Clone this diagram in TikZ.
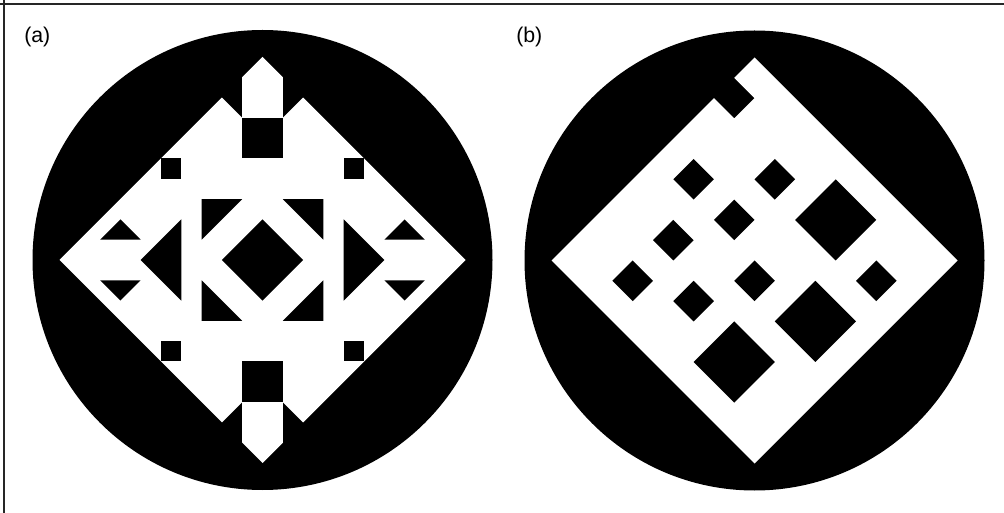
\documentclass[tikz,border=0pt]{standalone}
\usepackage{fontspec}
\setmainfont{Liberation Sans}
\begin{document}
\begin{tikzpicture}[x=0.75pt,y=-0.75pt,
  blk/.style={fill=black,draw=none},
  wht/.style={fill=white,draw=none},
  lbl/.style={anchor=base west,inner sep=0pt,font=\fontsize{16pt}{18pt}\selectfont},
  frameline/.style={draw=black!85,line width=1.5pt}]
\useasboundingbox (0,0) rectangle (1004,513);
\fill[white] (0,0) rectangle (1004,513);
\draw[frameline] (0,3.7) -- (1004,3.7);
\draw[frameline] (3.7,0) -- (3.7,513);
\node[lbl] (la) at (24,43) {(a)};
\node[lbl] (lb) at (516,43) {(b)};
% ---------- (a) ----------
\fill[blk] (262.5,260) circle (230);
\begin{scope}[shift={(262.5,260)},x=15.225pt,y=-15.225pt]
  \fill[wht] (-10,0) -- (-2,-8) -- (-1,-7) -- (1,-7) -- (2,-8) -- (10,0)
     -- (2,8) -- (1,7) -- (-1,7) -- (-2,8) -- cycle;
  \fill[wht] (-1,-7) -- (-1,-9) -- (0,-10) -- (1,-9) -- (1,-7) -- cycle;
  \fill[wht] (-1,7) -- (-1,9) -- (0,10) -- (1,9) -- (1,7) -- cycle;
  \fill[blk] (-1,-7) rectangle (1,-5);
  \fill[blk] (-1,5) rectangle (1,7);
  \fill[blk] (-5,-5) rectangle (-4,-4);
  \fill[blk] (4,-5) rectangle (5,-4);
  \fill[blk] (-5,4) rectangle (-4,5);
  \fill[blk] (4,4) rectangle (5,5);
  \fill[blk] (0,-2) -- (2,0) -- (0,2) -- (-2,0) -- cycle;
  \fill[blk] (-3,-3) -- (-1,-3) -- (-3,-1) -- cycle;
  \fill[blk] (3,-3) -- (1,-3) -- (3,-1) -- cycle;
  \fill[blk] (-3,3) -- (-1,3) -- (-3,1) -- cycle;
  \fill[blk] (3,3) -- (1,3) -- (3,1) -- cycle;
  \fill[blk] (-4,-2) -- (-4,2) -- (-6,0) -- cycle;
  \fill[blk] (4,-2) -- (4,2) -- (6,0) -- cycle;
  \fill[blk] (-8,-1) -- (-6,-1) -- (-7,-2) -- cycle;
  \fill[blk] (-8,1) -- (-6,1) -- (-7,2) -- cycle;
  \fill[blk] (8,-1) -- (6,-1) -- (7,-2) -- cycle;
  \fill[blk] (8,1) -- (6,1) -- (7,2) -- cycle;
\end{scope}
% ---------- (b) ----------
\fill[blk] (754.5,260.5) circle (230);
\begin{scope}[shift={(551.5,260.5)},x={(15.225pt,15.225pt)},y={(15.225pt,-15.225pt)}]
  \fill[wht] (0,0) -- (8,0) -- (8,1) -- (9,1) -- (9,0) -- (10,0) -- (10,10) -- (0,10) -- cycle;
  \foreach \a/\b/\c/\d in {5/1/6/2, 7/3/8/4, 7/5/9/7, 5/3/6/4, 3/2/4/3, 1/2/2/3,
      4/5/5/6, 7/8/8/9, 2/4/3/5, 4/7/6/9, 1/6/3/8}
    \fill[blk] (\a,\b) -- (\c,\b) -- (\c,\d) -- (\a,\d) -- cycle;
\end{scope}
\end{tikzpicture}
\end{document}
